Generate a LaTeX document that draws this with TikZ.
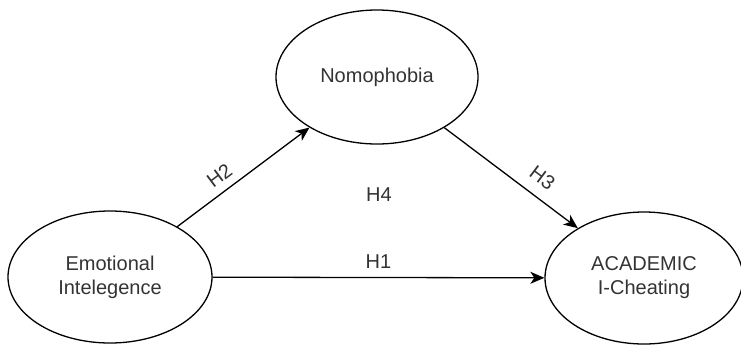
\documentclass[tikz,border=0pt]{standalone}
\usepackage{fontspec}
\setmainfont{Liberation Sans}
\usetikzlibrary{shapes.geometric,arrows.meta}
\definecolor{txt}{HTML}{333333}
\begin{document}
\begin{tikzpicture}[x=1pt,y=-1pt,
  every node/.style={font=\fontsize{20}{24}\selectfont, text=txt},
  oval/.style={ellipse, draw=black, line width=1.3pt, inner sep=0pt, align=center},
  link/.style={draw=black, line width=1.3pt, -{Stealth[length=14pt,width=12pt,inset=4pt]}},
  lbl/.style={inner sep=0pt}]
\useasboundingbox (0,0) rectangle (741,346);
\node[oval, minimum width=204pt, minimum height=132pt] (emo) at (110,277) {Emotional\\Intelegence};
\node[oval, minimum width=202pt, minimum height=134pt] (nomo) at (377,77) {Nomophobia};
\node[oval, minimum width=198pt, minimum height=132pt] (acad) at (644,278) {ACADEMIC\\I-Cheating};
\draw[link] (emo) -- node[lbl, sloped, pos=0.39, above=8pt] {H2} (nomo);
\draw[link] (nomo) -- node[lbl, sloped, pos=0.65, above=11pt] {H3} (acad);
\draw[link] (emo) -- node[lbl, above=8pt] {H1} (acad);
\node[lbl] (h4) at (379,195) {H4};
\end{tikzpicture}
\end{document}
